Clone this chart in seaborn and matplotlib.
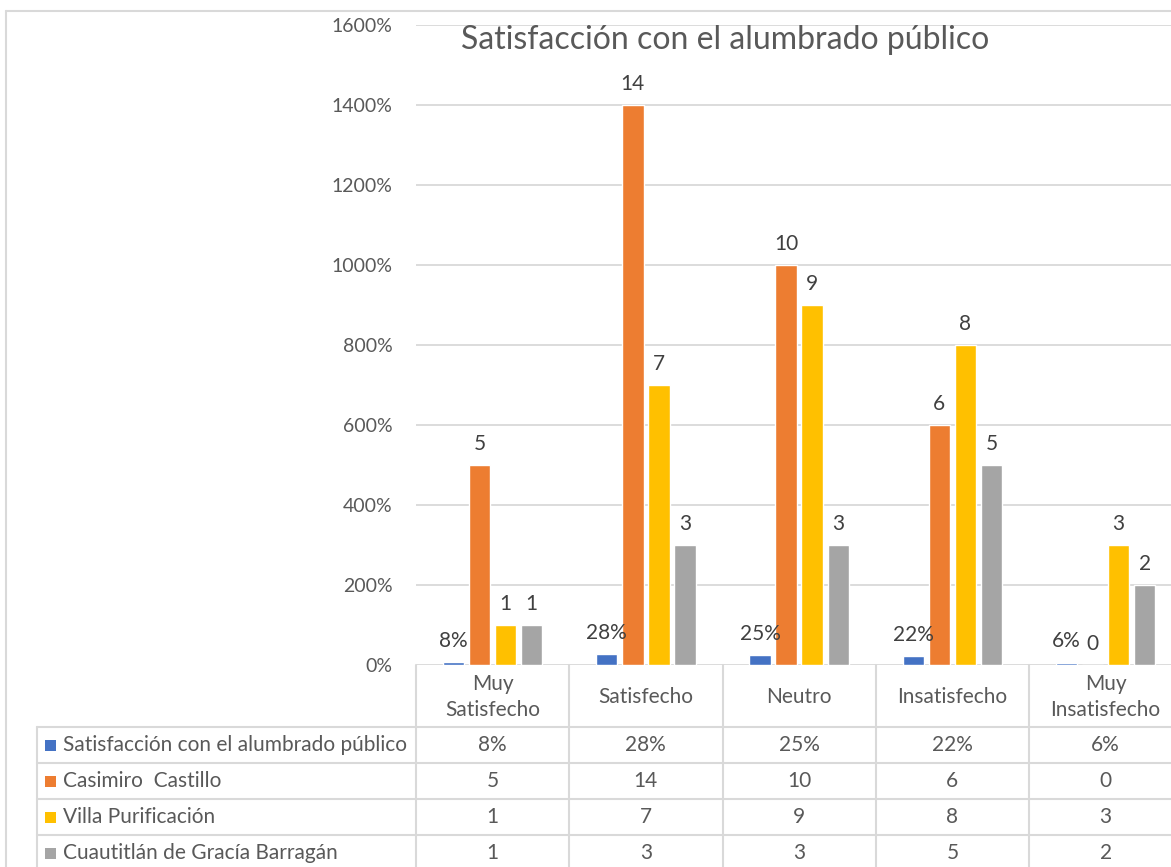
import pandas as pd
import matplotlib
matplotlib.use("Agg")
import matplotlib.pyplot as plt
import matplotlib.transforms as mtransforms
from matplotlib.lines import Line2D
from matplotlib.patches import Rectangle
from matplotlib.ticker import FuncFormatter
import seaborn as sns

# datos
categorias = ["Muy\nSatisfecho", "Satisfecho", "Neutro", "Insatisfecho", "Muy\nInsatisfecho"]
series = ["Satisfacción con el alumbrado público", "Casimiro  Castillo",
          "Villa Purificación", "Cuautitlán de Gracía Barragán"]
satisfaccion = [0.08, 0.28, 0.25, 0.22, 0.06]
casimiro = [5, 14, 10, 6, 0]
villa = [1, 7, 9, 8, 3]
cuautitlan = [1, 3, 3, 5, 2]
colores = ["#4472C4", "#ED7D31", "#FFC000", "#A5A5A5"]
titulo = "Satisfacción con el alumbrado público"

valores = [satisfaccion, casimiro, villa, cuautitlan]
etiquetas = [[f"{round(v * 100)}%" for v in satisfaccion]] + \
            [[str(v) for v in s] for s in valores[1:]]

df = pd.DataFrame([
    {"categoria": c, "serie": s, "valor": v}
    for s, vals in zip(series, valores)
    for c, v in zip(categorias, vals)
])

sns.set_theme(style="white")
plt.rcParams["font.family"] = ["Lato", "DejaVu Sans"]

W, H = 1171, 867
GRIS = "#D9D9D9"
TXT = "#595959"
FS = 15
fig = plt.figure(figsize=(W / 100, H / 100), dpi=100)
ax = fig.add_axes([416 / W, (H - 665) / H, (W - 416) / W, 640 / H])

sns.barplot(data=df, x="categoria", y="valor", hue="serie", order=categorias,
            hue_order=series, palette=colores, saturation=1, width=0.68, gap=0.18,
            errorbar=None, legend=False, ax=ax)

cat_w = 153.25
ax.set_xlim(-0.5, 4.5 - (416 + 5 * cat_w - W) / cat_w)
ax.set_ylim(0, 16)
ax.set_yticks(range(0, 17, 2))
ax.yaxis.set_major_formatter(FuncFormatter(lambda v, p: f"{int(round(v * 100))}%"))
ax.yaxis.grid(True, color=GRIS, lw=1.3)
ax.set_axisbelow(True)
ax.set_xticks([])
ax.set_xlabel("")
ax.set_ylabel("")
ax.tick_params(axis="y", length=0, pad=17, labelsize=14, labelcolor=TXT)
for sp in ax.spines.values():
    sp.set_visible(False)

for cont, labs in zip(ax.containers, etiquetas):
    ax.bar_label(cont, labels=labs, padding=8, fontsize=FS, color="#404040")

fig.text(725 / W, 1 - 40 / H, titulo, ha="center", va="center", fontsize=23, color=TXT)

# tabla de datos
fy = lambda ypx: 1 - ypx / H
bt = mtransforms.blended_transform_factory(ax.transData, fig.transFigure)

for i in range(6):
    x = i - 0.5
    fig.add_artist(Line2D([x, x], [fy(665), 0], transform=bt, color=GRIS, lw=1.5))
for ypx in [727, 763, 799, 835]:
    fig.add_artist(Line2D([37 / W, 1], [fy(ypx), fy(ypx)], transform=fig.transFigure,
                          color=GRIS, lw=1.5))
fig.add_artist(Line2D([37 / W, 37 / W], [fy(727), 0], transform=fig.transFigure,
                      color=GRIS, lw=1.5))

for i, c in enumerate(categorias):
    fig.text(i, fy(697), c, transform=bt, ha="center", va="center", fontsize=FS,
             color=TXT, linespacing=1.4)

filas = [745, 781, 817, 853]
for yc, s, col, labs in zip(filas, series, colores, etiquetas):
    fig.add_artist(Rectangle((45 / W, fy(yc + 6)), 11 / W, 11 / H,
                             transform=fig.transFigure, color=col, lw=0))
    fig.text(63 / W, fy(yc), s, ha="left", va="center", fontsize=FS, color=TXT)
    for i, lab in enumerate(labs):
        fig.text(i, fy(yc), lab, transform=bt, ha="center", va="center",
                 fontsize=FS, color=TXT)

# borde del grafico
fig.add_artist(Line2D([6 / W, 1], [fy(11), fy(11)], transform=fig.transFigure, color=GRIS, lw=1.5))
fig.add_artist(Line2D([6 / W, 6 / W], [fy(11), 0], transform=fig.transFigure, color=GRIS, lw=1.5))

fig.savefig("out.png", dpi=100)
